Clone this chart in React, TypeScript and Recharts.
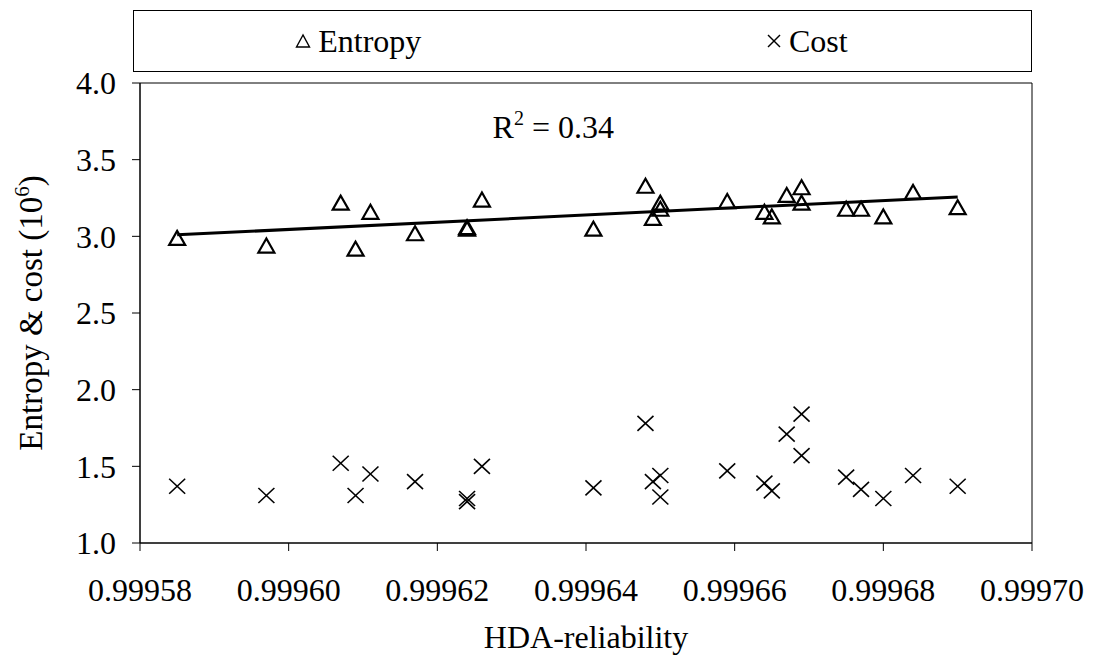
import { ScatterChart, Scatter, XAxis, YAxis, ReferenceArea, ReferenceDot, Legend } from "recharts";

const FONT = "Liberation Serif";

// HDA-reliability of each design (shared by both series)
const reliability = [
  0.999585, 0.999597, 0.999607, 0.999609, 0.999611, 0.999617, 0.999624, 0.999624, 0.999626,
  0.999641, 0.999648, 0.999649, 0.99965, 0.99965, 0.999659, 0.999664, 0.999665, 0.999667,
  0.999669, 0.999669, 0.999675, 0.999677, 0.99968, 0.999684, 0.99969,
];
const entropy = [
  2.99, 2.94, 3.22, 2.92, 3.16, 3.02, 3.05, 3.06, 3.24,
  3.05, 3.33, 3.12, 3.22, 3.18, 3.23, 3.16, 3.13, 3.27,
  3.32, 3.22, 3.18, 3.18, 3.13, 3.29, 3.19,
];
const cost = [
  1.37, 1.31, 1.52, 1.31, 1.45, 1.4, 1.27, 1.29, 1.5,
  1.36, 1.78, 1.4, 1.44, 1.3, 1.47, 1.39, 1.34, 1.71,
  1.84, 1.57, 1.43, 1.35, 1.29, 1.44, 1.37,
];

const xTicks = [0.99958, 0.9996, 0.99962, 0.99964, 0.99966, 0.99968, 0.9997];
const yTicks = [1, 1.5, 2, 2.5, 3, 3.5, 4];
const r2Text = "0.34";
const r2Pos = { x: 0.9996356, y: 3.71 };

const entropyData = reliability.map((x, i) => ({ x, y: entropy[i] }));
const costData = reliability.map((x, i) => ({ x, y: cost[i] }));

// linear trendline of entropy vs reliability (least squares)
const n = reliability.length;
const mx = reliability.reduce((a, b) => a + b, 0) / n;
const my = entropy.reduce((a, b) => a + b, 0) / n;
let sxy = 0;
let sxx = 0;
reliability.forEach((x, i) => {
  sxy += (x - mx) * (entropy[i] - my);
  sxx += (x - mx) * (x - mx);
});
const slope = sxy / sxx;
const xMin = Math.min(...reliability);
const xMax = Math.max(...reliability);
const trendData = [
  { x: xMin, y: my + slope * (xMin - mx) },
  { x: xMax, y: my + slope * (xMax - mx) },
];

const W = 1098;
const H = 658;
const PLOT_TOP = 83;
const LEGEND_H = 62;

const Triangle = (props: any) => {
  const { cx, cy } = props;
  if (cx == null || cy == null) return <g />;
  return (
    <polygon
      points={`${cx},${cy - 7} ${cx - 8},${cy + 7} ${cx + 8},${cy + 7}`}
      fill="none"
      stroke="#000"
      strokeWidth={2.2}
    />
  );
};

const Cross = (props: any) => {
  const { cx, cy } = props;
  if (cx == null || cy == null) return <g />;
  return (
    <g stroke="#000" strokeWidth={1.6}>
      <line x1={cx - 8} y1={cy - 7.5} x2={cx + 8} y2={cy + 7.5} />
      <line x1={cx - 8} y1={cy + 7.5} x2={cx + 8} y2={cy - 7.5} />
    </g>
  );
};

const LegendBox = () => (
  <div
    style={{
      boxSizing: "border-box",
      width: 899,
      height: LEGEND_H,
      border: "1px solid #000",
      display: "flex",
      fontFamily: FONT,
      fontSize: 32,
      background: "#fff",
    }}
  >
    <div style={{ flex: 1, display: "flex", alignItems: "center", justifyContent: "center" }}>
      <svg width={16} height={16} style={{ marginRight: 7 }}>
        <polygon points="8,2 1.5,14 14.5,14" fill="none" stroke="#000" strokeWidth={1.4} />
      </svg>
      Entropy
    </div>
    <div style={{ flex: 1, display: "flex", alignItems: "center", justifyContent: "center" }}>
      <svg width={16} height={16} style={{ marginRight: 7 }}>
        <line x1={2} y1={2} x2={14} y2={14} stroke="#000" strokeWidth={1.4} />
        <line x1={2} y1={14} x2={14} y2={2} stroke="#000" strokeWidth={1.4} />
      </svg>
      Cost
    </div>
  </div>
);

const R2Label = (props: any) => {
  const vb = props.viewBox || { x: 0, y: 0, width: 0, height: 0 };
  const cx = vb.x + (vb.width || 0) / 2;
  const cy = vb.y + (vb.height || 0) / 2;
  return (
    <text x={cx} y={cy + 11} textAnchor="middle" fontFamily={FONT} fontSize={32} fill="#000">
      R<tspan dy={-13} fontSize={20}>2</tspan>
      <tspan dy={13}>{` = ${r2Text}`}</tspan>
    </text>
  );
};

const YLabel = (props: any) => {
  const vb = props.viewBox || { x: 0, y: PLOT_TOP, width: 140, height: 460 };
  const x = vb.x + 42;
  const y = vb.y + vb.height / 2;
  return (
    <text
      x={x}
      y={y}
      transform={`rotate(-90, ${x}, ${y})`}
      textAnchor="middle"
      fontFamily={FONT}
      fontSize={33}
      fill="#000"
    >
      Entropy &amp; cost (10<tspan dy={-13} fontSize={21}>6</tspan>
      <tspan dy={13}>)</tspan>
    </text>
  );
};

const tickStyle = { fontFamily: FONT, fontSize: 32, fill: "#000" };

export default function App() {
  return (
    <div style={{ position: "absolute", left: 0, top: 0, width: W, height: H, background: "#fff", fontFamily: FONT }}>
      <ScatterChart
        width={W}
        height={H}
        margin={{ top: PLOT_TOP - LEGEND_H, right: 66, bottom: 4, left: 0 }}
        style={{ fontFamily: FONT }}
      >
        <Legend
          verticalAlign="top"
          align="left"
          content={<LegendBox />}
          wrapperStyle={{ top: 10, left: 133, width: 899, height: LEGEND_H }}
        />
        <XAxis
          type="number"
          dataKey="x"
          domain={[0.99958, 0.9997]}
          ticks={xTicks}
          allowDataOverflow
          tickFormatter={(v: number) => v.toFixed(5)}
          tick={tickStyle}
          tickSize={8}
          tickMargin={27}
          axisLine={{ stroke: "#000" }}
          tickLine={{ stroke: "#000" }}
          height={111}
          label={{
            value: "HDA-reliability",
            position: "insideBottom",
            offset: 6,
            style: { fontFamily: FONT, fontSize: 32, fill: "#000" },
          }}
        />
        <YAxis
          type="number"
          dataKey="y"
          domain={[1, 4]}
          ticks={yTicks}
          allowDataOverflow
          tickFormatter={(v: number) => v.toFixed(1)}
          tick={tickStyle}
          tickSize={8}
          tickMargin={16}
          axisLine={{ stroke: "#000" }}
          tickLine={{ stroke: "#000" }}
          width={140}
          label={<YLabel />}
        />
        <ReferenceArea x1={0.99958} x2={0.9997} y1={1} y2={4} fill="none" stroke="#000" strokeWidth={1} />
        <Scatter
          name="Entropy"
          data={entropyData}
          shape={<Triangle />}
          isAnimationActive={false}
          legendType="triangle"
        />
        <Scatter
          name="Cost"
          data={costData}
          shape={<Cross />}
          isAnimationActive={false}
          legendType="cross"
        />
        <Scatter
          name="Trend"
          data={trendData}
          line={{ stroke: "#000", strokeWidth: 3 }}
          shape={() => <g />}
          isAnimationActive={false}
          legendType="none"
        />
        <ReferenceDot x={r2Pos.x} y={r2Pos.y} r={0} fill="none" stroke="none" label={<R2Label />} />
      </ScatterChart>
    </div>
  );
}
